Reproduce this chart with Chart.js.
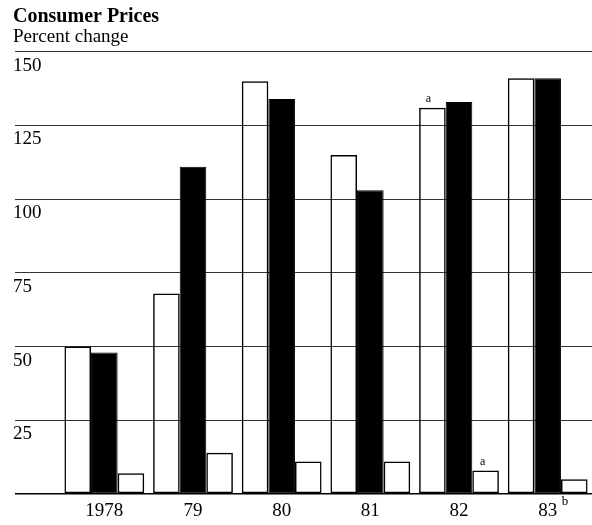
<!DOCTYPE html>
<html>
<head>
<meta charset="utf-8">
<script src="https://cdn.jsdelivr.net/npm/chart.js@4.4.1/dist/chart.umd.min.js"></script>
<style>
    body { margin: 0; background: #ffffff; }
    #wrap { width: 592px; height: 525px; position: relative; }
</style>
</head>
<body>
<div id="wrap"><canvas id="myChart"></canvas></div>
<script>
const years = ['1978', '79', '80', '81', '82', '83'];
const whiteBars = [50, 68, 140, 115, 131, 141];
const blackBars = [48, 111, 134, 103, 133, 141];
const smallBars = [7, 14, 11, 11, 8, 5];
const yTicks = [0, 25, 50, 75, 100, 125, 150];

// footnote marks: "a" over the 1982 bars, "b" after the 83 label
const notes = {
    id: 'notes',
    afterDatasetsDraw: function (chart) {
        const ctx = chart.ctx;
        ctx.save();
        ctx.fillStyle = '#000';
        ctx.font = '12px "Liberation Serif"';
        ctx.textAlign = 'center';
        ctx.textBaseline = 'bottom';
        const a1 = chart.getDatasetMeta(0).data[4];
        const a2 = chart.getDatasetMeta(2).data[4];
        ctx.fillText('a', a1.x - 4, a1.y - 3);
        ctx.fillText('a', a2.x - 3, a2.y - 3);
        const xs = chart.scales.x;
        ctx.font = '13px "Liberation Serif"';
        ctx.textAlign = 'left';
        ctx.textBaseline = 'top';
        ctx.fillText('b', xs.getPixelForValue(5) + 14, xs.top + 1);
        ctx.restore();
    }
};

const data = {
    labels: years,
    datasets: [{
        data: whiteBars,
        backgroundColor: 'rgba(255,255,255,0)',
        borderColor: '#000',
        borderWidth: 1.5
    }, {
        data: blackBars,
        backgroundColor: '#000',
        borderColor: '#000',
        borderWidth: 1
    }, {
        data: smallBars,
        backgroundColor: 'rgba(255,255,255,0)',
        borderColor: '#000',
        borderWidth: 1.5
    }]
};

const config = {
    type: 'bar',
    data: data,
    plugins: [notes],
    options: {
        responsive: true,
        maintainAspectRatio: false,
        animation: false,
        layout: {
            padding: { left: 13, right: 0, top: 0, bottom: 0 }
        },
        datasets: {
            bar: {
                categoryPercentage: 0.9,
                barPercentage: 1.0,
                borderSkipped: false
            }
        },
        plugins: {
            legend: { display: false },
            tooltip: { enabled: false },
            title: {
                display: true,
                text: 'Consumer Prices',
                align: 'start',
                color: '#000',
                font: { family: '"Liberation Serif"', size: 20, weight: 'bold' },
                padding: { top: 5, bottom: -3 }
            },
            subtitle: {
                display: true,
                text: 'Percent change',
                align: 'start',
                color: '#000',
                font: { family: '"Liberation Serif"', size: 19 },
                padding: { top: 0, bottom: 3 }
            }
        },
        scales: {
            x: {
                afterFit: function (scale) { scale.height = 31; },
                grid: { display: false, drawTicks: false },
                border: { display: false },
                ticks: {
                    color: '#000',
                    padding: 6,
                    font: { family: '"Liberation Serif"', size: 19 }
                }
            },
            y: {
                min: 0,
                max: 150,
                afterFit: function (scale) { scale.width = 47; },
                afterBuildTicks: function (scale) {
                    scale.ticks = yTicks.map(v => ({ value: v }));
                },
                border: { display: false },
                grid: {
                    color: ctx => ctx.tick && ctx.tick.value === 0 ? '#000' : '#333',
                    lineWidth: ctx => ctx.tick && ctx.tick.value === 0 ? 1.5 : 1,
                    tickLength: 45
                },
                ticks: {
                    color: '#000',
                    crossAlign: 'far',
                    labelOffset: 14,
                    padding: 0,
                    font: { family: '"Liberation Serif"', size: 19 },
                    callback: v => v === 0 ? '' : v
                }
            }
        }
    }
};

const myChart = new Chart(
    document.getElementById('myChart'),
    config
);
</script>
</body>
</html>
